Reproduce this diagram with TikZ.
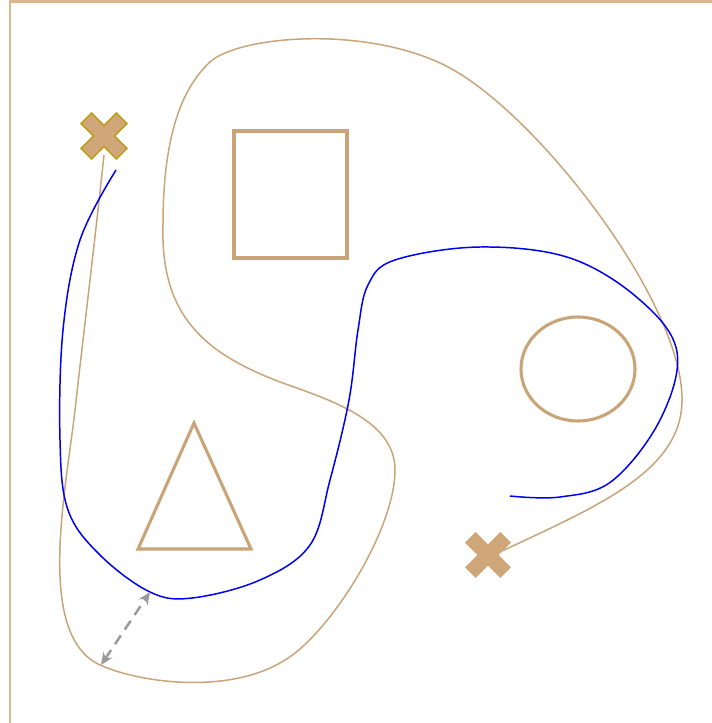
\documentclass[tikz,border=0pt]{standalone}
\usetikzlibrary{arrows.meta}
\definecolor{tanline}{HTML}{C9A478}
\definecolor{tanfill}{HTML}{CFA677}
\definecolor{tanframe}{HTML}{D9B88E}
\definecolor{goldedge}{HTML}{C09A10}
\definecolor{pathblue}{HTML}{0000F0}
\definecolor{gapgray}{HTML}{999999}
\tikzset{
  obstacle/.style={draw=tanline, line width=1.75pt},
  region/.style={draw=tanline, line width=0.85pt},
  route/.style={draw=pathblue, line width=0.85pt},
  gap/.style={{Stealth[length=7pt,width=6pt]}-{Stealth[length=7pt,width=6pt]},
    draw=gapgray, dashed, line width=1.4pt, dash pattern=on 6pt off 4pt},
  crossmark/.pic={
    \path[pic actions, rotate=45]
      (-7.5,-25) -- (7.5,-25) -- (7.5,-7.5) -- (25,-7.5) -- (25,7.5)
      -- (7.5,7.5) -- (7.5,25) -- (-7.5,25) -- (-7.5,7.5) -- (-25,7.5)
      -- (-25,-7.5) -- (-7.5,-7.5) -- cycle;
  }
}
\begin{document}
\begin{tikzpicture}[x=0.02cm, y=-0.02cm]
  \clip (0,0) rectangle (712,723);

  % frame
  \draw[tanframe, line width=1.2pt] (10,760) -- (10,1.5) -- (760,1.5);

  % start and goal
  \coordinate (start) at (104,136);
  \coordinate (goal)  at (488,555);
  \coordinate (tail)  at (104,155);
  \coordinate (head)  at (502,551);

  % obstacles
  \draw[obstacle] (234,131) rectangle (347,258);
  \draw[obstacle] (578,369) ellipse (57 and 52);
  \draw[obstacle] (138,549) -- (251,549) -- (194,423) -- cycle;

  % outer region
  \draw[region] (tail)
    .. controls (95,240) and (84,330) .. (75,410)
    .. controls (66,490) and (35,635) .. (100,665)
    .. controls (140,683) and (230,695) .. (285,660)
    .. controls (330,633) and (395,530) .. (395,470)
    .. controls (395,420) and (330,400) .. (280,382)
    .. controls (210,355) and (160,320) .. (163,225)
    .. controls (163,140) and (180,90) .. (210,62)
    .. controls (240,35) and (370,25) .. (450,68)
    .. controls (540,117) and (680,300) .. (682,397)
    .. controls (684,470) and (600,505) .. (head);

  % planned path
  \draw[route] plot[smooth, tension=0.6] coordinates {
      (116,170) (80,240) (63,330) (60,440) (68,510) (100,555)
      (150,592) (192,598) (260,580) (310,545) (330,480) (349,400)
      (358,330) (368,285) (395,260) (480,247) (570,258) (640,300)
      (677,352) (660,420) (612,481) (560,497) (510,496)};

  % markers
  \pic[fill=tanfill, draw=goldedge, line width=0.8pt] at (start) {crossmark};
  \pic[fill=tanfill] at (goal) {crossmark};

  % clearance
  \coordinate (near) at (150,592);
  \coordinate (far)  at (101,665);
  \draw[gap] (far) -- (near);
\end{tikzpicture}
\end{document}
